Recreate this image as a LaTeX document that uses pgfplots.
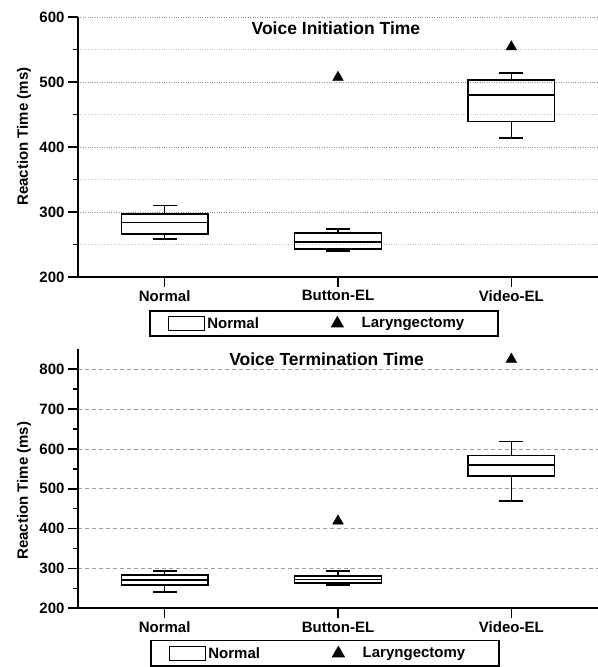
\documentclass[border=0pt]{standalone}
\usepackage{fontspec}
\setmainfont{Liberation Sans}
\usepackage{pgfplots}
\pgfplotsset{compat=1.18}

\newcommand{\tickfont}{\fontsize{15bp}{18bp}\selectfont\bfseries}
\newcommand{\titlefont}{\fontsize{17.5bp}{20bp}\selectfont\bfseries}

\pgfplotsset{
 mystyle/.style={
  scale only axis, width=520bp,
  axis x line=bottom, axis y line=left,
  axis line style={-, line width=1.8bp, black},
  xmin=0.5, xmax=3.5, xtick={1,2,3}, xticklabels={Normal,Button-EL,Video-EL},
  tick align=outside, major tick length=10bp, minor tick length=5bp,
  every tick/.append style={black, line width=1.6bp},
  minor y tick num=1,
  tick label style={font=\tickfont},
  /pgf/number format/assume math mode=true,
  ylabel={Reaction Time (ms)},
  ylabel style={font=\tickfont},
  legend columns=2,
  legend cell align=left,
  legend style={draw=black, line width=1.6bp, font=\tickfont, anchor=north,
    inner xsep=18bp, inner ysep=4.5bp,
    /tikz/every even column/.append style={column sep=71bp}},
 },
 bx/.style={black, solid, line width=1.6bp, mark=none, line cap=rect, line join=miter, forget plot},
 tri/.style={only marks, mark=triangle*, mark size=6.2bp, black},
}

\begin{document}
\begin{tikzpicture}
\useasboundingbox (0,0) rectangle (598bp,667bp);

% ---------- Top: Voice Initiation Time ----------
\begin{axis}[mystyle,
  at={(78bp,390bp)}, anchor=south west, height=260bp,
  ymin=200, ymax=600, ytick={200,300,400,500,600},
  ymajorgrids, yminorgrids,
  major grid style={dotted, gray!85, line width=0.8bp},
  minor grid style={dotted, gray!45, line width=0.8bp},
  ylabel style={at={(axis description cs:-0.104,0.54)}, anchor=center},
  legend style={at={(0.473,-0.127)}},
]
\node[font=\titlefont, anchor=center] at (rel axis cs:0.496,0.958) {Voice Initiation Time};
% Normal
\addplot[bx] coordinates {(0.75,266) (1.25,266) (1.25,297) (0.75,297) (0.75,266)};
\addplot[bx] coordinates {(0.75,284) (1.25,284)};
\addplot[bx] coordinates {(1,297) (1,310)};
\addplot[bx] coordinates {(0.935,310) (1.065,310)};
\addplot[bx] coordinates {(1,266) (1,258)};
\addplot[bx] coordinates {(0.935,258) (1.065,258)};
% Button-EL
\addplot[bx] coordinates {(1.75,243) (2.25,243) (2.25,268) (1.75,268) (1.75,243)};
\addplot[bx] coordinates {(1.75,254) (2.25,254)};
\addplot[bx] coordinates {(2,268) (2,274)};
\addplot[bx] coordinates {(1.935,274) (2.065,274)};
\addplot[bx] coordinates {(2,243) (2,240)};
\addplot[bx] coordinates {(1.935,240) (2.065,240)};
% Video-EL
\addplot[bx] coordinates {(2.75,439) (3.25,439) (3.25,503) (2.75,503) (2.75,439)};
\addplot[bx] coordinates {(2.75,480) (3.25,480)};
\addplot[bx] coordinates {(3,503) (3,514)};
\addplot[bx] coordinates {(2.935,514) (3.065,514)};
\addplot[bx] coordinates {(3,439) (3,414)};
\addplot[bx] coordinates {(2.935,414) (3.065,414)};
% outliers
\addplot[tri, forget plot] coordinates {(2,507) (3,554)};
\addlegendimage{legend image code/.code={\draw[line width=1.6bp] (0bp,-7bp) rectangle (36bp,7bp);}}
\addlegendentry{Normal}
\addlegendimage{tri, mark size=6.2bp}
\addlegendentry{\hspace*{17bp}Laryngectomy\hspace*{14bp}}
\end{axis}

% ---------- Bottom: Voice Termination Time ----------
\begin{axis}[mystyle,
  at={(78bp,58.7bp)}, anchor=south west, height=259bp,
  ymin=200, ymax=850, ytick={200,300,400,500,600,700,800},
  ymajorgrids,
  major grid style={dash pattern=on 4bp off 3bp, gray!75, line width=0.8bp},
  ylabel style={at={(axis description cs:-0.104,0.454)}, anchor=center},
  legend style={at={(0.475,-0.122)}},
]
\node[font=\titlefont, anchor=center] at (rel axis cs:0.478,0.961) {Voice Termination Time};
% Normal
\addplot[bx] coordinates {(0.75,259) (1.25,259) (1.25,283) (0.75,283) (0.75,259)};
\addplot[bx] coordinates {(0.75,271) (1.25,271)};
\addplot[bx] coordinates {(1,283) (1,294)};
\addplot[bx] coordinates {(0.935,294) (1.065,294)};
\addplot[bx] coordinates {(1,259) (1,241)};
\addplot[bx] coordinates {(0.935,241) (1.065,241)};
% Button-EL
\addplot[bx] coordinates {(1.75,263) (2.25,263) (2.25,281) (1.75,281) (1.75,263)};
\addplot[bx] coordinates {(1.75,272) (2.25,272)};
\addplot[bx] coordinates {(2,281) (2,294)};
\addplot[bx] coordinates {(1.935,294) (2.065,294)};
\addplot[bx] coordinates {(2,263) (2,258)};
\addplot[bx] coordinates {(1.935,258) (2.065,258)};
% Video-EL
\addplot[bx] coordinates {(2.75,532) (3.25,532) (3.25,583) (2.75,583) (2.75,532)};
\addplot[bx] coordinates {(2.75,559) (3.25,559)};
\addplot[bx] coordinates {(3,583) (3,619)};
\addplot[bx] coordinates {(2.935,619) (3.065,619)};
\addplot[bx] coordinates {(3,532) (3,470)};
\addplot[bx] coordinates {(2.935,470) (3.065,470)};
% outliers
\addplot[tri, forget plot] coordinates {(2,419) (3,825)};
\addlegendimage{legend image code/.code={\draw[line width=1.6bp] (0bp,-7bp) rectangle (36bp,7bp);}}
\addlegendentry{Normal}
\addlegendimage{tri, mark size=6.2bp}
\addlegendentry{\hspace*{17bp}Laryngectomy\hspace*{14bp}}
\end{axis}
\end{tikzpicture}
\end{document}
